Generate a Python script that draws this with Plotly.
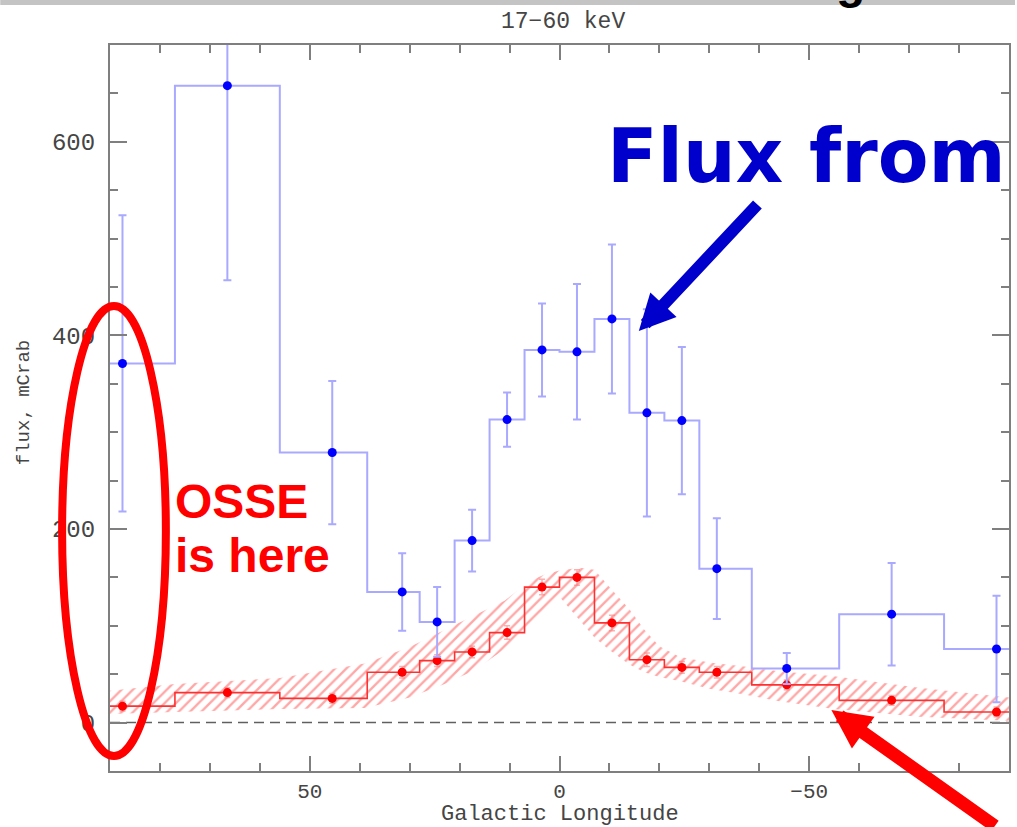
import plotly.graph_objects as go

# Galactic longitude bin centres (deg) shared by both profiles
longitude = [87.5, 66.5, 45.5, 31.5, 24.5, 17.5, 10.5, 3.5,
             -3.5, -10.5, -17.5, -24.5, -31.5, -45.5, -66.5, -87.5]

# Measured 17-60 keV flux (mCrab) with 1-sigma errors
flux_total = [371, 658, 279, 135, 104, 188, 313, 385,
              383, 417, 320, 312, 159, 56, 112, 76]
flux_total_err = [153, 201, 74, 40, 36, 32, 28, 48,
                  70, 77, 107, 76, 52, 16, 53, 55]

# Diffuse component (mCrab) with its errors
flux_diffuse = [17, 31, 25, 52, 64, 73, 93, 140,
                150, 103, 65, 57, 52, 39, 23, 11]
flux_diffuse_err = [5, 5, 5, 6, 6, 6, 7, 8, 8, 8, 7, 6, 6, 5, 5, 5]

# Model uncertainty band for the diffuse component
band_lon = [90, 77, 56, 39, 30, 23, 17, 11, 6, 3, 0, -4, -7, -10,
            -14, -17, -20, -24, -30, -37, -44, -55, -72, -90]
band_upper = [33, 40, 46, 61, 78, 96, 111, 126, 146, 153, 157, 160, 158, 140,
              117, 96, 79, 68, 62, 58, 53, 48, 36, 26]
band_lower = [9, 11, 14, 15, 26, 40, 54, 76, 98, 112, 130, 106, 88, 75,
              60, 52, 47, 43, 35, 29, 22, 14, 6, 2]

# Plot-area pixel geometry (used for placing overlay annotations)
W, H = 1017, 827
PL, PR, PT, PB = 110, 1011, 45, 771


def px(xp):
    return (xp - PL) / (PR - PL)


def py(yp):
    return (PB - yp) / (PB - PT)


def step_xy(x, y):
    """Extend a centred histogram out to its outer bin edges."""
    first = x[0] + (x[0] - x[1]) / 2
    last = x[-1] - (x[-2] - x[-1]) / 2
    return [first] + list(x) + [last], [y[0]] + list(y) + [y[-1]]


AXIS_GREY = "#7f7f7f"
TEXT_GREY = "#454545"
MONO = "Liberation Mono, Courier New, monospace"

fig = go.Figure()

# hatched uncertainty band
fig.add_trace(go.Scatter(
    x=band_lon + band_lon[::-1],
    y=band_upper + band_lower[::-1],
    mode="lines", fill="toself",
    line=dict(width=0, color="rgba(0,0,0,0)"),
    fillcolor="rgba(0,0,0,0)",
    fillpattern=dict(shape="/", fgcolor="rgba(255,80,80,1)",
                     bgcolor="rgba(0,0,0,0)", size=8, solidity=0.3),
    hoverinfo="skip", showlegend=False,
))

# diffuse component histogram
sx, sy = step_xy(longitude, flux_diffuse)
fig.add_trace(go.Scatter(
    x=sx, y=sy, mode="lines", line_shape="hvh",
    line=dict(color="#ff3030", width=1.6), showlegend=False,
))
fig.add_trace(go.Scatter(
    x=longitude, y=flux_diffuse, mode="markers",
    marker=dict(color="#ff0000", size=9),
    error_y=dict(type="data", array=flux_diffuse_err, color="rgba(255,120,120,0.6)",
                 thickness=1.5, width=3),
    showlegend=False,
))

# total flux histogram
bx, by = step_xy(longitude, flux_total)
fig.add_trace(go.Scatter(
    x=bx, y=by, mode="lines", line_shape="hvh",
    line=dict(color="#a9a9ff", width=2), showlegend=False,
))
fig.add_trace(go.Scatter(
    x=longitude, y=flux_total, mode="markers",
    marker=dict(color="#0000ff", size=9),
    error_y=dict(type="data", array=flux_total_err, color="#a9a9ff",
                 thickness=2, width=4),
    showlegend=False,
))

axis_common = dict(
    showline=True, linecolor=AXIS_GREY, linewidth=2, mirror="allticks",
    ticks="inside", tickcolor=AXIS_GREY, tickwidth=1.5,
    showgrid=False, zeroline=False,
)

fig.update_xaxes(range=[90, -90], autorange=False, dtick=50, tick0=0, ticklen=15,
                 tickfont=dict(family=MONO, size=21, color=TEXT_GREY),
                 minor=dict(dtick=10, ticklen=8, ticks="inside",
                            tickcolor=AXIS_GREY, tickwidth=1.5),
                 **axis_common)
fig.update_yaxes(range=[-50, 700], autorange=False, dtick=200, tick0=0, ticklen=17,
                 ticklabelstandoff=8,
                 tickfont=dict(family=MONO, size=24, color=TEXT_GREY),
                 minor=dict(dtick=50, ticklen=8, ticks="inside",
                            tickcolor=AXIS_GREY, tickwidth=1.5),
                 **axis_common)

shapes = [
    # zero-flux reference
    dict(type="line", xref="paper", yref="y", x0=0, x1=1, y0=0, y1=0,
         line=dict(color="#606060", width=1.5, dash="10px,6px"), layer="below"),
    # OSSE field marker
    dict(type="circle", xref="paper", yref="paper",
         x0=px(62), x1=px(166), y0=py(756), y1=py(306),
         line=dict(color="#ff0000", width=8), layer="above"),
    # slide border strip
    dict(type="rect", xref="paper", yref="paper",
         x0=px(0), x1=px(W), y0=py(5), y1=py(0),
         fillcolor="#c4c4c4", line=dict(width=0), layer="above"),
]

annotations = [
    dict(text="17\u221260 keV", xref="paper", yref="paper", x=px(564), y=py(22),
         xanchor="center", yanchor="middle", showarrow=False,
         font=dict(family=MONO, size=23, color=TEXT_GREY)),
    dict(text="Galactic Longitude", xref="paper", yref="paper", x=px(561), y=py(814),
         xanchor="center", yanchor="middle", showarrow=False,
         font=dict(family=MONO, size=22, color=TEXT_GREY)),
    dict(text="flux, mCrab", xref="paper", yref="paper", x=px(24), y=py(403),
         xanchor="center", yanchor="middle", textangle=-90, showarrow=False,
         font=dict(family=MONO, size=19, color=TEXT_GREY)),
    # slide heading descender peeking in at the top edge
    dict(text="<b>g</b>", xref="paper", yref="paper", x=px(852), y=py(10),
         xanchor="center", yanchor="bottom", showarrow=False,
         font=dict(family="Liberation Sans, Arial", size=48, color="#000000")),
    dict(text="<b>Flux from</b>", xref="paper", yref="paper", x=px(606), y=py(156),
         xanchor="left", yanchor="middle", showarrow=False,
         font=dict(family="DejaVu Sans", size=74, color="#0000cc")),
    dict(text="<b>OSSE</b>", xref="paper", yref="paper", x=px(173), y=py(501),
         xanchor="left", yanchor="middle", showarrow=False,
         font=dict(family="Liberation Sans, Arial", size=48, color="#ff0000")),
    dict(text="<b>is here</b>", xref="paper", yref="paper", x=px(173), y=py(555),
         xanchor="left", yanchor="middle", showarrow=False,
         font=dict(family="Liberation Sans, Arial", size=48, color="#ff0000")),
    # pointer to the total flux
    dict(text="", xref="paper", yref="paper", x=px(640), y=py(331),
         ax=120, ay=-128, showarrow=True, arrowhead=2, arrowsize=0.6,
         arrowwidth=12, arrowcolor="#0000cc", standoff=0),
    # pointer to the diffuse band
    dict(text="", xref="paper", yref="paper", x=px(833), y=py(710),
         ax=165, ay=130, showarrow=True, arrowhead=2, arrowsize=0.6,
         arrowwidth=13, arrowcolor="#ff0000", standoff=0),
]

fig.update_layout(
    width=W, height=H,
    margin=dict(l=PL, r=W - PR, t=PT, b=H - PB),
    paper_bgcolor="white", plot_bgcolor="white",
    shapes=shapes, annotations=annotations,
    showlegend=False,
)

fig.write_html("out.html")
